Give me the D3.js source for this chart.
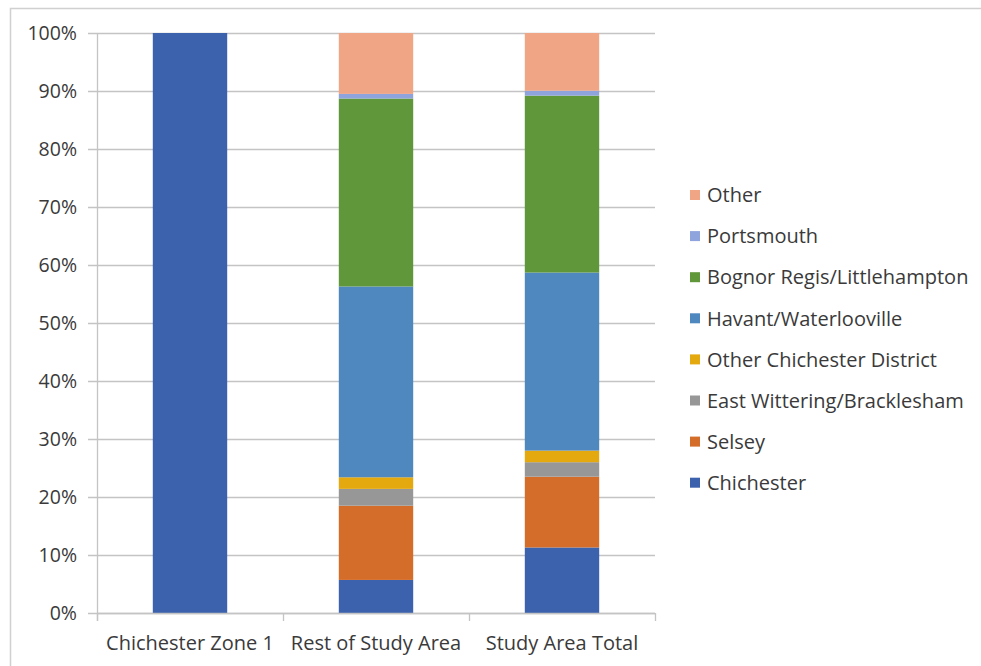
<!DOCTYPE html>
<html>
<head>
<meta charset="utf-8">
<script src="https://cdn.jsdelivr.net/npm/d3@7"></script>
<style>
  html, body { margin: 0; padding: 0; background: #fff; }
  svg { display: block; }
  text { font-family: "Open Sans", "Liberation Sans", sans-serif; fill: #3a3a3a; }
</style>
</head>
<body>
<svg id="chart" width="981" height="666"></svg>
<script>
// Share of trips by destination for each zone (percent)
const categories = ["Chichester Zone 1", "Rest of Study Area", "Study Area Total"];
const seriesNames = ["Chichester", "Selsey", "East Wittering/Bracklesham", "Other Chichester District",
                     "Havant/Waterlooville", "Bognor Regis/Littlehampton", "Portsmouth", "Other"];
const chichester = [100, 5.7, 11.3];
const selsey     = [0, 12.8, 12.2];
const eastWittering = [0, 2.9, 2.5];
const otherChichesterDistrict = [0, 2.0, 2.0];
const havant     = [0, 32.9, 30.7];
const bognor     = [0, 32.4, 30.5];
const portsmouth = [0, 0.8, 0.85];
const other      = [0, 10.5, 9.95];
const yTicks = [0, 10, 20, 30, 40, 50, 60, 70, 80, 90, 100];

const seriesValues = [chichester, selsey, eastWittering, otherChichesterDistrict, havant, bognor, portsmouth, other];
const colors = ["#3c62ae", "#d46d2a", "#979797", "#e4a90e", "#4f87bf", "#5f973a", "#8fa3dc", "#f0a584"];

const rows = categories.map((c, i) => {
  const r = { category: c };
  seriesNames.forEach((s, j) => { r[s] = seriesValues[j][i]; });
  return r;
});
const stacked = d3.stack().keys(seriesNames)(rows);

const svg = d3.select("#chart");

// outer frame
svg.append("rect").attr("x", 10.5).attr("y", 8.5).attr("width", 1000).attr("height", 700)
  .attr("fill", "none").attr("stroke", "#d0d0d0").attr("stroke-width", 1.5);

const margin = { left: 97, right: 655, top: 33, bottom: 613 };
const x = d3.scaleBand().domain(categories).range([margin.left, margin.right]).paddingInner(0.6).paddingOuter(0.3);
const y = d3.scaleLinear().domain([0, 100]).range([margin.bottom, margin.top]);

// gridlines with left tick marks
const grid = svg.append("g");
grid.selectAll("line").data(yTicks).join("line")
  .attr("x1", margin.left - 9).attr("x2", margin.right)
  .attr("y1", d => y(d) + 0.5).attr("y2", d => y(d) + 0.5)
  .attr("stroke", "#c4c4c4").attr("stroke-width", 1.3);

// y-axis tick labels
const yAxis = d3.axisLeft(y).tickValues(yTicks).tickFormat(d => d + "%").tickSize(0).tickPadding(20);
const ya = svg.append("g").attr("transform", `translate(${margin.left},0)`).call(yAxis);
ya.select(".domain").remove();
ya.selectAll("text").style("font-size", "19.5px").style("font-family", "'Open Sans', sans-serif")
  .attr("fill", "#3a3a3a").attr("dy", "0.35em");

// vertical axis line
svg.append("line").attr("x1", margin.left + 0.5).attr("x2", margin.left + 0.5)
  .attr("y1", margin.top).attr("y2", margin.bottom + 8)
  .attr("stroke", "#c4c4c4").attr("stroke-width", 1.3);

// bars
svg.append("g").selectAll("g").data(stacked).join("g")
  .attr("fill", (d, i) => colors[i])
  .selectAll("rect").data(d => d).join("rect")
  .attr("x", d => x(d.data.category))
  .attr("width", x.bandwidth())
  .attr("y", d => y(d[1]))
  .attr("height", d => y(d[0]) - y(d[1]));

// category axis
const boundaries = [0, 1, 2, 3].map(i => margin.left + i * (margin.right - margin.left) / 3);
svg.append("line").attr("x1", margin.left).attr("x2", margin.right)
  .attr("y1", margin.bottom + 0.5).attr("y2", margin.bottom + 0.5)
  .attr("stroke", "#c4c4c4").attr("stroke-width", 1.3);
svg.append("g").selectAll("line").data(boundaries).join("line")
  .attr("x1", d => d + 0.5).attr("x2", d => d + 0.5)
  .attr("y1", margin.bottom).attr("y2", margin.bottom + 8)
  .attr("stroke", "#c4c4c4").attr("stroke-width", 1.3);
svg.append("g").selectAll("text").data(categories).join("text")
  .attr("x", d => x(d) + x.bandwidth() / 2)
  .attr("y", 650)
  .attr("text-anchor", "middle")
  .style("font-size", "20px")
  .text(d => d);

// legend, top entry is the last series
const legend = svg.append("g");
const legendItems = seriesNames.slice().reverse();
legendItems.forEach((name, i) => {
  const cy = 195 + i * 41.1;
  legend.append("rect").attr("x", 690).attr("y", cy - 5).attr("width", 10).attr("height", 10)
    .attr("fill", colors[seriesNames.indexOf(name)]);
  legend.append("text").attr("x", 707).attr("y", cy).attr("dy", "0.36em")
    .style("font-size", "20px").text(name);
});
</script>
</body>
</html>
